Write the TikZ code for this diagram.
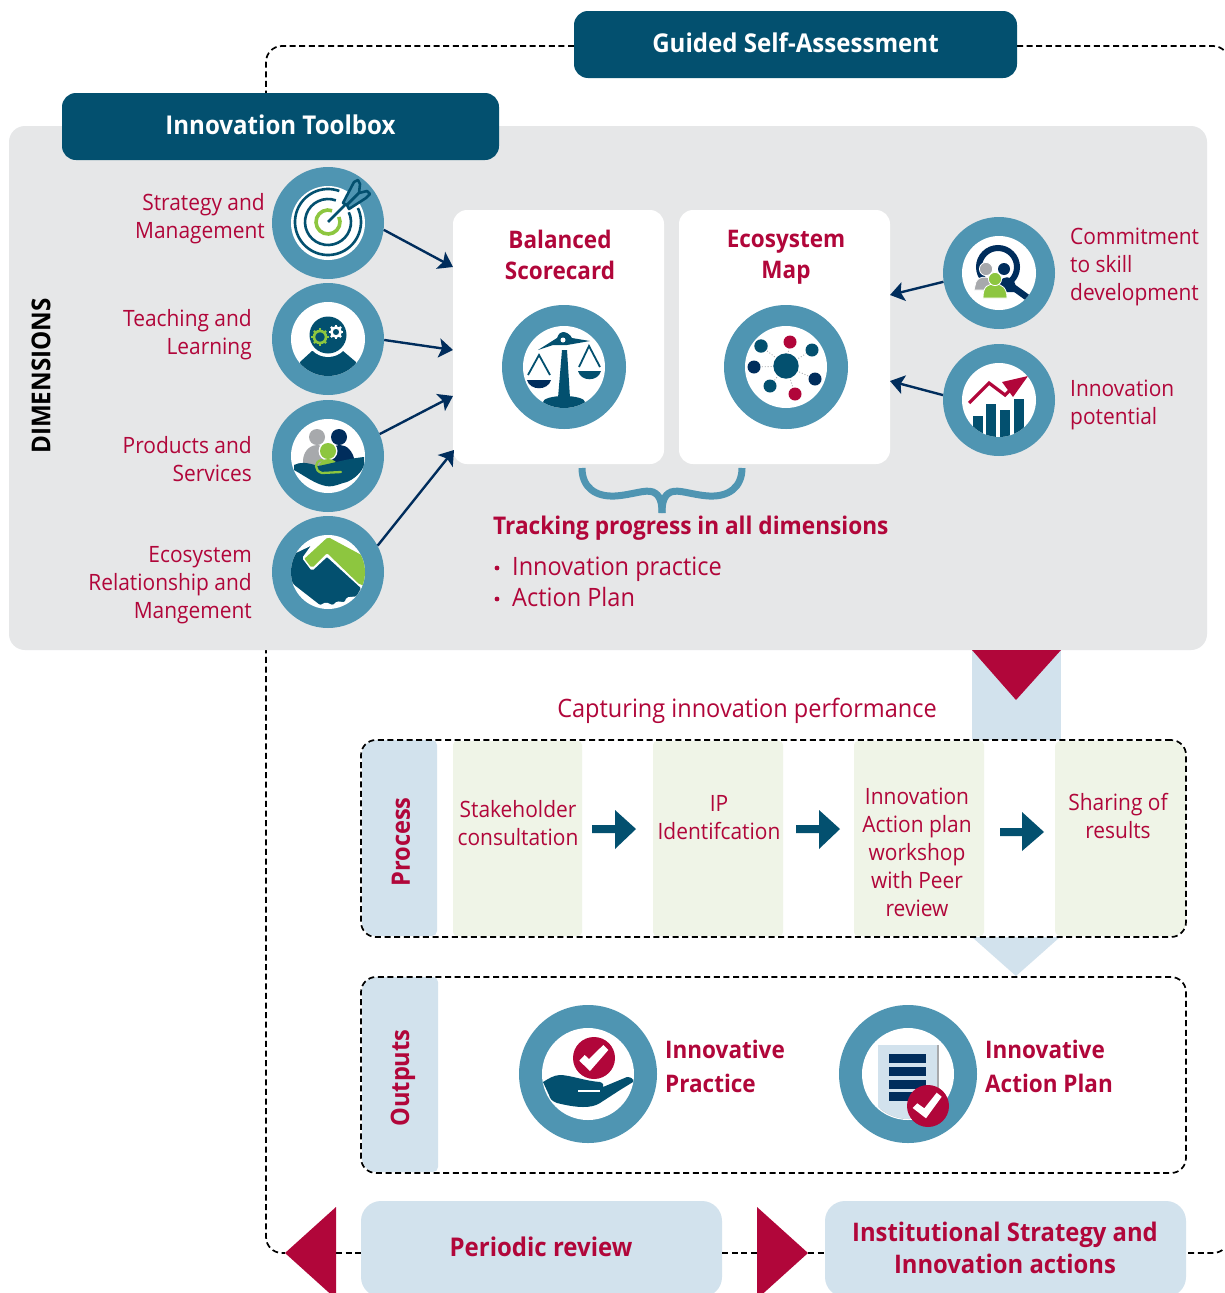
\documentclass[tikz,border=0pt]{standalone}
\usepackage{fontspec}
\setmainfont[FakeStretch=0.93]{Open Sans}
\usetikzlibrary{arrows.meta}
\definecolor{teal}{HTML}{03506F}
\definecolor{navy}{HTML}{002D5C}
\definecolor{ringc}{HTML}{4F95B2}
\definecolor{crim}{HTML}{B1063A}
\definecolor{pale}{HTML}{D2E2ED}
\definecolor{leaf}{HTML}{8DC63F}
\definecolor{mint}{HTML}{EFF4E7}
\definecolor{panelc}{HTML}{E6E7E8}
\definecolor{grayc}{HTML}{A7A9AC}
\newcommand\fsz[2]{\fontsize{#1}{#2}\selectfont}
\newcommand\gearicon[4]{%
  \foreach \a in {0,45,...,315} {\draw[#4,line width=2.4pt] (#1,#2)++(\a:#3) -- ++(\a:2.6pt);}
  \draw[#4,line width=2.6pt] (#1,#2) circle (#3);
}
\tikzset{
  x=1pt,y=-1pt,
  header/.style={fill=teal,text=white,rounded corners=14pt,minimum height=67pt,inner sep=0pt,font=\fsz{25.9}{30}\bfseries},
  cardbox/.style={fill=white,rounded corners=14pt,minimum width=211pt,minimum height=254pt,inner sep=0pt},
  ringS/.style={circle,fill=ringc,minimum size=112pt,inner sep=0pt},
  ringM/.style={circle,fill=ringc,minimum size=124pt,inner sep=0pt},
  ringL/.style={circle,fill=ringc,minimum size=138pt,inner sep=0pt},
  lbl/.style={text=crim,inner sep=0pt,font=\fsz{22.5}{28}},
  lblR/.style={lbl,align=right,anchor=east},
  lblL/.style={lbl,align=left,anchor=west},
  lblC/.style={lbl,align=center},
  head/.style={text=crim,inner sep=0pt,font=\fsz{24.2}{31}\bfseries,align=center},
  headL/.style={head,align=left,anchor=west,font=\fsz{24.2}{34}\bfseries},
  side/.style={text=crim,inner sep=0pt,rotate=90,font=\fsz{25.4}{28}\bfseries},
  loop/.style={black,line width=1.7pt,dash pattern=on 6pt off 3.6pt},
  dashbox/.style={draw=black,line width=1.7pt,dash pattern=on 6pt off 3.6pt,rounded corners=15pt,minimum width=825pt,minimum height=197pt,inner sep=0pt},
  link/.style={navy,line width=2.4pt,-{Stealth[length=14pt,width=19pt,inset=3pt]}},
  flow/.style={fill=teal,draw=none},
  softbox/.style={fill=pale,rounded corners=20pt,inner sep=0pt,minimum width=361pt,minimum height=96pt},
}
\begin{document}
\begin{tikzpicture}
\clip (0,0) rectangle (1224,1293);
\fill[white] (0,0) rectangle (1224,1293);

% outer dashed loop
\coordinate (backL) at (285,1253);
\coordinate (backR) at (1186,1253);
\coordinate (gL) at (574,46);
\coordinate (gR) at (1017,46);
\draw[loop,rounded corners=16pt] (gL) -- (266,46) -- (266,1253) -- (backL);
\draw[loop,rounded corners=16pt] (gR) -- (1229,46) -- (1229,1253) -- (backR);

% panel
\node[fill=panelc,rounded corners=16pt,minimum width=1198pt,minimum height=524pt,inner sep=0pt] (panel) at (608,388) {};
\node[header,minimum width=437pt] (toolbox) at (280.5,126.5) {\raisebox{3pt}{Innovation Toolbox}};
\node[header,minimum width=443pt] (guided) at (795.5,44.5) {\raisebox{3pt}{Guided Self-Assessment}};
\node[rotate=90,inner sep=0pt,font=\fsz{26}{30}\bfseries] (dims) at (41,376) {DIMENSIONS};

% cards
\node[cardbox] (card1) at (558.5,337) {};
\node[cardbox] (card2) at (784.5,337) {};
\node[head] (bsc) at (560,255) {Balanced\\Scorecard};
\node[head] (eco) at (786,257) {Ecosystem\\Map};

% rings
\node[ringS] (c1) at (328,223) {};
\node[ringS] (c2) at (328,339) {};
\node[ringS] (c3) at (328,456) {};
\node[ringS] (c4) at (328,572) {};
\node[ringS] (c5) at (999,273) {};
\node[ringS] (c6) at (999,400) {};
\node[ringM] (c7) at (564,367) {};
\node[ringM] (c8) at (786,367) {};
\node[ringL] (c9) at (588,1074) {};
\node[ringL] (c10) at (908,1074) {};

% connector ends
\coordinate (a1) at (453,267);
\coordinate (a2) at (453,350);
\coordinate (a3) at (453,396);
\coordinate (a4) at (454,450);
\coordinate (a5) at (890,295);
\coordinate (a6) at (890,381);
\draw[link] (c1.-7) -- (a1);
\draw[link] (c2.-1) -- (a2);
\draw[link] (c3.23) -- (a3);
\draw[link] (c4.28) -- (a4);
\draw[link] (c5.189) -- (a5);
\draw[link] (c6.175) -- (a6);

% labels
\node[lblR] (l1) at (265,219) {Strategy and\\Management};
\node[lblR] (l2) at (252,335) {Teaching and\\Learning};
\node[lblR] (l3) at (252,459) {Products and\\Services};
\node[lblR] (l4) at (252,585) {Ecosystem\\Relationship and\\Mangement};
\node[lblL] (l5) at (1070,267) {Commitment\\to skill\\development};
\node[lblL] (l6) at (1070,405) {Innovation\\potential};

% icon 1: target
\begin{scope}
\coordinate (t) at (328,222);
\fill[white] (c1.center) circle (37pt);
\draw[teal,line width=2.6pt] (t)+(70:33pt) arc[start angle=70,end angle=385,radius=33pt];
\draw[teal,line width=2.6pt] (t)+(70:23pt) arc[start angle=70,end angle=385,radius=23pt];
\draw[leaf,line width=3.6pt] (t)+(70:12pt) arc[start angle=70,end angle=385,radius=12pt];
\draw[white,line width=5pt] (t) -- (346,204);
\draw[teal,line width=2.6pt] (t) -- (346,204);
\draw[fill=ringc,draw=teal,line width=2.6pt,line join=round] (343,203) -- (354,182) -- (358,180) -- (360,184) -- (359,193) -- (347,205) -- cycle;
\draw[fill=ringc,draw=teal,line width=2.6pt,line join=round] (347,205) -- (359,193) -- (367,191) -- (370,194) -- (366,198) -- (349,209) -- cycle;
\end{scope}

% icon 2: head with gears
\begin{scope}
\fill[white] (c2.center) circle (37pt);
\clip (c2.center) circle (37pt);
\fill[teal] (300,362) -- (312,351) -- (343,351) -- (356,362) -- (356,380) -- (300,380) -- cycle;
\fill[white] (328,335) circle (22pt);
\fill[teal] (328,335) circle (18.5pt);
\gearicon{320}{337}{6pt}{leaf}
\gearicon{336}{332}{4.6pt}{white}
\end{scope}

% icon 3: family in hand
\begin{scope}
\fill[white] (c3.center) circle (37pt);
\clip (c3.center) circle (37pt);
\fill[grayc] (303,475) -- (303,460) .. controls (304,449) and (312,445) .. (317,445) .. controls (322,445) and (330,450) .. (332,475) -- cycle;
\fill[grayc] (317,437) circle (8pt);
\fill[navy] (326,470) -- (330,452) .. controls (332,447) and (336,445) .. (340,445) .. controls (347,445) and (353,451) .. (355,462) -- (355,470) -- cycle;
\fill[navy] (339,437) circle (8pt);
\fill[white] (328,451) circle (9.5pt);
\fill[leaf] (328,451) circle (8pt);
\fill[leaf] (318,470) .. controls (319,462) and (323,459) .. (328,459) .. controls (333,459) and (337,462) .. (338,465) -- cycle;
\fill[teal] (294,465) .. controls (300,462) and (306,462) .. (318,466) .. controls (330,464) and (345,459) .. (364,457) -- (364,466) .. controls (360,475) and (350,482) .. (343,483) .. controls (335,486) and (330,487) .. (326,486) .. controls (315,484) and (305,476) .. (294,470) -- cycle;
\draw[leaf,line width=2.3pt,line cap=round] (341,472) -- (322,473) .. controls (314,471) and (314,461) .. (322,460);
\end{scope}

% icon 4: handshake
\begin{scope}
\fill[white] (c4.center) circle (37pt);
\clip (c4.center) circle (37pt);
\fill[leaf,rounded corners=2pt] (303,560) -- (328,537) -- (367,558) -- (367,585) -- (360,585) -- (327,553) -- (312,568) -- cycle;
\fill[teal,draw=white,line width=1.4pt,rounded corners=1.5pt] (288,556) -- (313,544) -- (303,558) -- (312,570) -- (327,556) -- (362,588) -- (357,597) -- (347,598) -- (345,603) -- (337,602) -- (333,606) -- (326,603) -- (320,606) -- (293,585) -- (286,572) -- cycle;
\end{scope}

% icon 5: magnifier and people
\begin{scope}
\fill[white] (c5.center) circle (37pt);
\clip (c5.center) circle (37pt);
\draw[navy,line width=6.5pt] (1010,285) -- (1028,298);
\draw[navy,line width=6pt] (998,267) circle (19pt);
\fill[navy] (1000,292) -- (1000,281) .. controls (1004,276) and (1010,276) .. (1014,281) -- (1018,292) -- cycle;
\fill[navy] (1004,269) circle (6pt);
\fill[grayc,draw=white,line width=0.8pt] (974,290) -- (976,282) .. controls (979,275) and (992,275) .. (997,285) -- (997,290) -- cycle;
\fill[grayc,draw=white,line width=0.8pt] (986,269) circle (6.6pt);
\fill[leaf,draw=white,line width=0.8pt] (983,298) .. controls (983,286) and (988,284) .. (995,284) .. controls (1002,284) and (1007,288) .. (1007,298) -- cycle;
\fill[leaf,draw=white,line width=0.8pt] (995,279) circle (6.6pt);
\end{scope}

% icon 6: chart
\begin{scope}
\fill[white] (c6.center) circle (37pt);
\clip (c6.center) circle (37pt);
\fill[teal] (973,416) rectangle (983,440);
\fill[teal] (986,404) rectangle (996,440);
\fill[teal] (1000,410) rectangle (1010,440);
\fill[teal] (1014,399) rectangle (1024,440);
\draw[crim,line width=3.2pt] (969,403) -- (989,383) -- (1005,395) -- (1013,387);
\fill[crim] (1002,382) -- (1028,376) -- (1013,397) -- cycle;
\end{scope}

% icon 7: scales
\begin{scope}
\fill[white] (c7.center) circle (41pt);
\clip (c7.center) circle (41pt);
\fill[teal] (564,402) ellipse (21pt and 6pt);
\fill[teal] (562,350) -- (567,350) -- (570,398) -- (558,398) -- cycle;
\fill[teal] (538,350) -- (557,338) .. controls (559,333) and (561,332) .. (563,332) .. controls (566,332) and (570,334) .. (572,338) -- (590,341) -- (567,345) -- (553,345) -- cycle;
\fill[white] (563,340) circle (2.5pt);
\draw[teal,line width=1.8pt] (528,375) -- (539,355) -- (550,375);
\draw[teal,line width=1.8pt] (579,367) -- (589,346) -- (600,367);
\fill[navy] (527,380) .. controls (530,391) and (548,391) .. (551,380) -- cycle;
\fill[teal] (578,371) .. controls (581,382) and (598,382) .. (601,371) -- cycle;
\end{scope}

% icon 8: network
\begin{scope}
\fill[white] (c8.center) circle (41pt);
\coordinate (hub) at (786,366);
\foreach \px/\py in {761/346,790/342,812/350,754/367,815/379,770/386,795/394}
  \draw[grayc,line width=0.9pt,dotted] (hub) -- (\px,\py);
\fill[teal] (hub) circle (12.7pt);
\fill[teal] (761,346) circle (6.7pt);
\fill[crim] (790,342) circle (6.5pt);
\fill[teal] (812,350) circle (6.5pt);
\fill[navy] (754,367) circle (6.5pt);
\fill[navy] (815,379) circle (6.5pt);
\fill[teal] (770,386) circle (6.5pt);
\fill[crim] (795,394) circle (6.5pt);
\end{scope}

% brace
\draw[ringc,line width=7pt] (582,468) .. controls (582,487) and (595,497) .. (615,496) .. controls (632,495) and (645,489) .. (653,492) .. controls (660,495) and (662,502) .. (662,513);
\draw[ringc,line width=7pt] (742,468) .. controls (742,487) and (729,497) .. (709,496) .. controls (692,495) and (679,489) .. (671,492) .. controls (664,495) and (662,502) .. (662,513);

\node[head,anchor=west,font=\fsz{24.35}{31}\bfseries] (track) at (493,528) {Tracking progress in all dimensions};
\node[lbl,anchor=west,font=\fsz{25.3}{28}] (b1) at (512,569) {Innovation practice};
\node[lbl,anchor=west,font=\fsz{25.3}{28}] (b2) at (512,597) {Action Plan};
\fill[crim] (497,568) circle (2.4pt);
\fill[crim] (497,599) circle (2.4pt);

% flow stem
\fill[pale] (972,650) rectangle (1061,740);
\fill[crim] (972,650) -- (1061,650) -- (1016,700) -- cycle;
\node[lblC,font=\fsz{25.3}{28}] (capt) at (747,711) {Capturing innovation performance};

% process row
\fill[pale] (972,937) -- (1060,937) -- (1016,976) -- cycle;
\fill[pale] (400,740) [rounded corners=5pt] -- (437,740) -- (437,936) [rounded corners=14pt] -- (362,936) -- (362,740) -- cycle;
\fill[mint,rounded corners=4pt] (453,741) rectangle (582,936);
\fill[mint,rounded corners=4pt] (653,741) rectangle (783,936);
\fill[mint,rounded corners=4pt] (854,741) rectangle (984,936);
\fill[mint] (1100,741) [rounded corners=14pt] -- (1186,741) -- (1186,936) [rounded corners=6pt] -- (1055,936) -- (1055,741) -- cycle;
\node[dashbox] (proc) at (773.5,838.5) {};
\node[side] (procl) at (401,842) {Process};
\node[lblC] (s1) at (518,823) {Stakeholder\\consultation};
\node[lblC] (s2) at (719,818) {IP\\Identifcation};
\node[lblC] (s3) at (917,852) {Innovation\\Action plan\\workshop\\with Peer\\review};
\node[lblC] (s4) at (1118,816) {Sharing of\\results};
\fill[flow] (592,825) -- (615,825) -- (615,810) -- (636,829) -- (615,849) -- (615,833) -- (592,833) -- cycle;
\fill[flow] (796,825) -- (819,825) -- (819,810) -- (840,829) -- (819,849) -- (819,833) -- (796,833) -- cycle;
\fill[flow] (1000,828) -- (1022,828) -- (1022,812) -- (1044,832) -- (1022,851) -- (1022,836) -- (1000,836) -- cycle;

% outputs row
\fill[pale] (400,977) [rounded corners=5pt] -- (438,977) -- (438,1172) [rounded corners=14pt] -- (362,1172) -- (362,977) -- cycle;
\node[dashbox,minimum height=196pt] (outp) at (773.5,1075) {};
\node[side] (outl) at (403,1078) {Outputs};

% practice icon
\begin{scope}
\fill[white] (c9.center) circle (46pt);
\fill[crim] (594,1058) circle (21pt);
\fill[white] (579.3,1060.7) -- (584.7,1055) -- (589,1059) -- (603.3,1045) -- (608.3,1050) -- (590,1071) -- cycle;
\fill[teal] (543,1082) .. controls (548,1079) and (554,1075) .. (560,1075) .. controls (570,1075) and (585,1081) .. (600,1082) .. controls (603,1083) and (604,1085) .. (603,1087) -- (627,1077) .. controls (631,1077) and (634,1079) .. (633,1082) -- (620,1090) -- (600,1103) .. controls (595,1106) and (590,1107) .. (583,1107) .. controls (575,1107) and (565,1105) .. (557,1103) .. controls (552,1101) and (550,1099) .. (549,1095) -- cycle;
\draw[white,line width=1.4pt] (578,1091) -- (600,1091);
\end{scope}
\node[headL] (o1) at (665,1066) {Innovative\\Practice};

% plan icon
\begin{scope}
\fill[white] (c10.center) circle (46pt);
\begin{scope}
\clip (909,1073) circle (46pt);
\fill[grayc] (880,1045) rectangle (939,1125);
\fill[pale] (878,1045) rectangle (937,1125);
\fill[navy] (889,1054) rectangle (926,1063);
\fill[navy] (889,1067) rectangle (926,1076);
\fill[navy] (889,1080) rectangle (926,1089);
\fill[navy] (889,1092) rectangle (926,1101);
\end{scope}
\fill[crim] (928,1106) circle (21pt);
\fill[white] (912.7,1108) -- (917.3,1103.3) -- (924.3,1108.3) -- (936.7,1092.7) -- (941.7,1096.7) -- (926,1118.3) -- cycle;
\end{scope}
\node[headL] (o2) at (985,1066) {Innovative\\Action Plan};

% bottom row
\coordinate (tipL) at (285,1253);
\coordinate (tipR) at (808,1253);
\node[softbox] (periodic) at (541.5,1249) {};
\node[softbox] (instit) at (1005.5,1249) {};
\draw[loop] (336,1253) -- (periodic.west |- tipL);
\draw[loop] (periodic.east |- tipL) -- (757,1253);
\draw[loop] (tipR) -- (instit.west |- tipR);
\fill[crim] (tipL) -- (336,1207) -- (336,1299) -- cycle;
\fill[crim] (tipR) -- (757,1207) -- (757,1299) -- cycle;
\node[head,font=\fsz{25.8}{32}\bfseries] (pt) at (541,1247) {Periodic review};
\node[head,font=\fsz{25.6}{32}\bfseries] (it) at (1005,1248) {Institutional Strategy and\\Innovation actions};
\end{tikzpicture}
\end{document}
